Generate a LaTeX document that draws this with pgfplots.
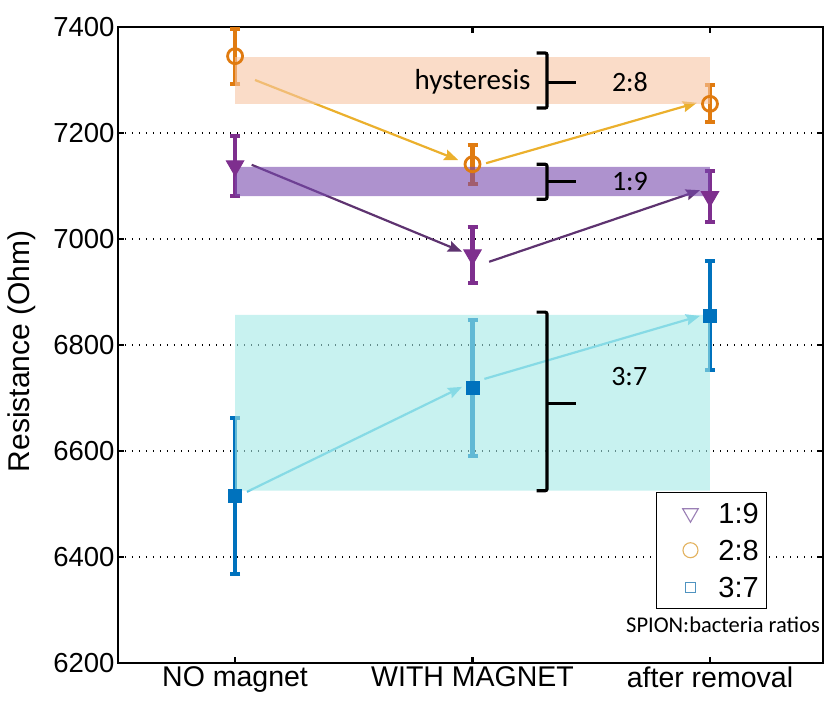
\documentclass[border=0pt]{standalone}
\usepackage{pgfplots}
\pgfplotsset{compat=1.18}
\usetikzlibrary{arrows.meta}
\usepackage{fontspec}
\setmainfont{Liberation Sans}
\newfontfamily\calfont{Carlito}

\definecolor{cpurple}{HTML}{7E2F8E}
\definecolor{corange}{HTML}{E07B10}
\definecolor{cblue}{HTML}{0072BD}
\definecolor{apurple}{HTML}{5E3370}
\definecolor{aorange}{HTML}{EBB02D}
\definecolor{acyan}{HTML}{5BC4E5}
\definecolor{rpeach}{RGB}{246,197,163}
\definecolor{rpurple}{RGB}{120,73,173}
\definecolor{rcyan}{RGB}{163,233,230}
\definecolor{lpurple}{HTML}{9A7FB5}
\definecolor{lorange}{HTML}{E3B25E}
\definecolor{lblue}{HTML}{4F93C0}

\begin{document}
\begin{tikzpicture}
\begin{axis}[
  at={(118pt,39pt)}, anchor=south west,
  scale only axis, width=705pt, height=636pt,
  xmin=-0.493, xmax=2.476, ymin=6200, ymax=7400,
  xtick={0,1,2}, xticklabels={NO magnet, WITH MAGNET, after removal},
  ytick={6200,6400,...,7400},
  ymajorgrids, grid style={black, line width=1.3pt, dash pattern=on 1.3pt off 5.7pt},
  axis line style={line width=2.6pt},
  tick style={black, line width=2.6pt}, tick align=inside, major tick length=6pt,
  /pgf/number format/assume math mode=true,
  /pgf/number format/1000 sep={},
  yticklabel style={font=\fontsize{27.5}{30}\selectfont},
  xticklabel style={font=\fontsize{28.5}{31}\selectfont},
  ylabel={Resistance (Ohm)},
  ylabel style={font=\fontsize{30}{33}\selectfont, at={(axis description cs:-0.136,0.49)}, anchor=center},
  legend style={at={(axis cs:1.773,6523)}, anchor=north west, draw=black, line width=0.8pt,
    inner xsep=0pt, inner ysep=2.5pt, row sep=0pt,
    font=\fontsize{29}{30}\selectfont,
    nodes={inner sep=0pt, text width=48pt, align=left, text height=21pt, text depth=0pt, minimum height=37pt},
    /tikz/every odd column/.style={column sep=18pt}},
  legend image code/.code={\path[draw=none] (0pt,0pt) (44pt,0pt); \draw[#1] plot coordinates {(34pt,0pt)};},
  legend cell align=left,
]
% arrows
\addplot[forget plot, aorange, line width=2.2pt, -{Stealth[length=14pt,width=11pt,inset=2pt]}] coordinates {(0.084,7300) (0.94,7149)};
\addplot[forget plot, aorange, line width=2.2pt, -{Stealth[length=14pt,width=11pt,inset=2pt]}] coordinates {(1.057,7143) (1.945,7257)};
\addplot[forget plot, apurple, line width=2.2pt, -{Stealth[length=14pt,width=11pt,inset=2pt]}] coordinates {(0.07,7140) (0.956,6976)};
\addplot[forget plot, apurple, line width=2.2pt, -{Stealth[length=14pt,width=11pt,inset=2pt]}] coordinates {(1.07,6957) (1.958,7092)};
\addplot[forget plot, acyan, line width=2.2pt, -{Stealth[length=14pt,width=11pt,inset=2pt]}] coordinates {(0.05,6523) (0.956,6721)};
\addplot[forget plot, acyan, line width=2.2pt, -{Stealth[length=14pt,width=11pt,inset=2pt]}] coordinates {(1.05,6736) (1.958,6855)};
% 1:9
\addplot[forget plot, cpurple, only marks, mark=triangle*, mark size=10pt,
  mark options={rotate=180, fill=cpurple, line width=1pt},
  error bars/.cd, y dir=both, y explicit,
  error bar style={line width=4.2pt, cpurple},
  error mark options={rotate=90, mark size=5pt, line width=4pt, cpurple}]
  coordinates {(0,7138) +- (0,56) (1,6970) +- (0,53) (2,7080) +- (0,48)};
% 2:8
\addplot[forget plot, corange, only marks, mark=o, mark size=7.5pt,
  mark options={line width=2.8pt, fill=none},
  error bars/.cd, y dir=both, y explicit,
  error bar style={line width=4.2pt, corange},
  error mark options={rotate=90, mark size=5pt, line width=4pt, corange}]
  coordinates {(0,7345) +- (0,52) (1,7141) +- (0,37) (2,7255) +- (0,35)};
% 3:7
\addplot[forget plot, cblue, only marks, mark=square*, mark size=6.5pt,
  mark options={fill=cblue, line width=1pt, rounded corners=2pt},
  error bars/.cd, y dir=both, y explicit,
  error bar style={line width=4.2pt, cblue},
  error mark options={rotate=90, mark size=5pt, line width=4pt, cblue}]
  coordinates {(0,6515) +- (0,147) (1,6719) +- (0,128) (2,6855) +- (0,103)};
% shaded bands
\addplot[forget plot, draw=none, fill=rpeach, fill opacity=0.6] coordinates {(0,7255) (2,7255) (2,7343) (0,7343) (0,7255)};
\addplot[forget plot, draw=none, fill=rpurple, fill opacity=0.6] coordinates {(0,7081) (2,7081) (2,7136) (0,7136) (0,7081)};
\addplot[forget plot, draw=none, fill=rcyan, fill opacity=0.6] coordinates {(0,6525) (2,6525) (2,6857) (0,6857) (0,6525)};
% brackets
\draw[line width=3.2pt, rounded corners=2pt] (axis cs:1.27,7351) -- (axis cs:1.314,7351) -- (axis cs:1.314,7247) -- (axis cs:1.27,7247);
\draw[line width=3.2pt] (axis cs:1.314,7296) -- (axis cs:1.436,7296);
\draw[line width=3.2pt, rounded corners=2pt] (axis cs:1.27,7141) -- (axis cs:1.314,7141) -- (axis cs:1.314,7075) -- (axis cs:1.27,7075);
\draw[line width=3.2pt] (axis cs:1.314,7108) -- (axis cs:1.436,7108);
\draw[line width=3.2pt, rounded corners=2pt] (axis cs:1.27,6862) -- (axis cs:1.314,6862) -- (axis cs:1.314,6525) -- (axis cs:1.27,6525);
\draw[line width=3.2pt] (axis cs:1.314,6689) -- (axis cs:1.436,6689);
\node[font=\calfont\fontsize{29}{32}\selectfont] at (axis cs:1.0,7296) {hysteresis};
\node[font=\calfont\fontsize{28}{32}\selectfont] at (axis cs:1.663,7296) {2:8};
\node[font=\calfont\fontsize{28}{32}\selectfont] at (axis cs:1.663,7108) {1:9};
\node[font=\calfont\fontsize{28}{32}\selectfont] at (axis cs:1.66,6740) {3:7};
\node[font=\calfont\fontsize{22.5}{27}\selectfont] at (axis cs:2.055,6272) {SPION:bacteria ratios};
% legend
\addlegendimage{only marks, mark=triangle, mark size=9pt, mark options={rotate=180, lpurple, line width=1.1pt}}
\addlegendentry{1:9}
\addlegendimage{only marks, mark=o, mark size=7.5pt, mark options={lorange, line width=1.1pt}}
\addlegendentry{2:8}
\addlegendimage{only marks, mark=square, mark size=5pt, mark options={lblue, line width=1.1pt}}
\addlegendentry{3:7}
\end{axis}
\pgfresetboundingbox
\path (0,0) rectangle (828pt,702pt);
\end{tikzpicture}
\end{document}
